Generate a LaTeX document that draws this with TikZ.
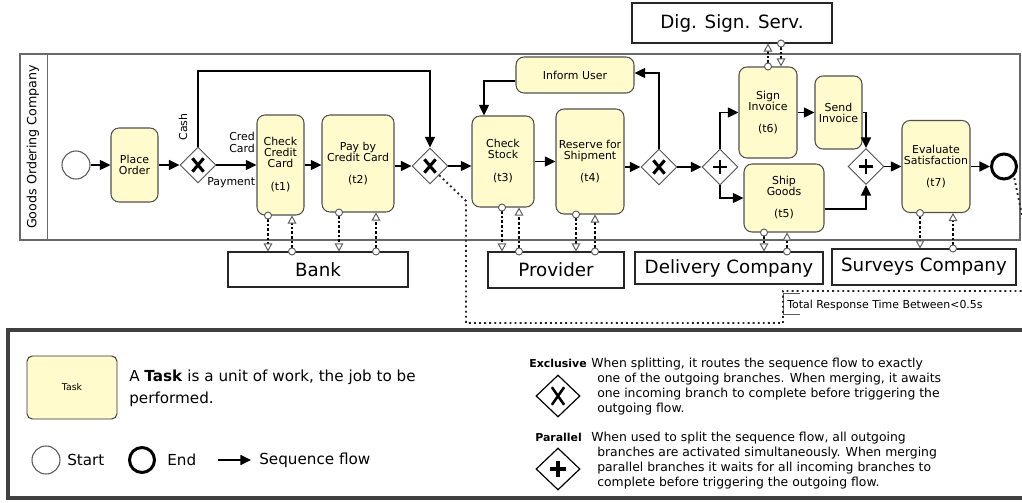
\documentclass[tikz,border=0pt]{standalone}
\usepackage{fontspec}
\setmainfont{DejaVu Sans}
\usetikzlibrary{shapes.geometric,arrows.meta}
\definecolor{taskfill}{RGB}{255,251,204}
\definecolor{taskline}{RGB}{80,80,80}
\definecolor{poolline}{RGB}{105,105,105}
\definecolor{frameline}{RGB}{64,64,64}
\definecolor{tipgray}{RGB}{90,90,90}
\newcommand\tfont{\fontsize{8.2}{8.25}\selectfont}
\newcommand\bigfont{\fontsize{13.7}{15}\selectfont}
\newcommand\lbfont{\fontsize{8.2}{8.5}\selectfont}
\newcommand\legA{\fontsize{11.4}{16.5}\selectfont}
\newcommand\legB{\fontsize{9.3}{11.25}\selectfont}
\newcommand\legBold{\fontsize{8.2}{10}\selectfont\bfseries}
\newcommand\gwX[1]{\draw[line width=2.3pt] ([shift={(-4.2pt,-5pt)}]#1.center) -- ([shift={(4.2pt,5pt)}]#1.center) ([shift={(-4.2pt,5pt)}]#1.center) -- ([shift={(4.2pt,-5pt)}]#1.center);}
\newcommand\gwP[1]{\draw[line width=2.2pt] ([xshift=-5.4pt]#1.center) -- ([xshift=5.4pt]#1.center) ([yshift=-5.4pt]#1.center) -- ([yshift=5.4pt]#1.center);}
\begin{document}
\begin{tikzpicture}[x=0.75pt,y=-0.75pt,
 task/.style={draw=taskline, fill=taskfill, rounded corners=6pt, line width=0.8pt, inner sep=0pt, align=center, font=\tfont},
 gw/.style={diamond, draw=taskline, fill=white, minimum width=27pt, minimum height=27pt, inner sep=0pt, line width=0.7pt},
 seq/.style={-{Triangle[length=8pt,width=7.5pt]}, line width=1.1pt, black},
 msg/.style={line width=0.9pt, dash pattern=on 2pt off 1.5pt, shorten <=-3pt, {Circle[length=6pt,width=6pt,fill=white,color=tipgray,line width=0.7pt]}-{Triangle[length=6pt,width=6.5pt,fill=white,color=tipgray,line width=0.7pt]}},
 part/.style={draw=black!85, line width=0.8pt, inner sep=0pt, font=\bigfont},
 lbl/.style={font=\lbfont, inner sep=0pt},
 assoc/.style={line width=1.4pt, dash pattern=on 1.4pt off 2.4pt, black!85},
 legline/.style={font=\legB, anchor=base west, inner sep=0pt},
]
\useasboundingbox (0,0) rectangle (1022,503);
\clip (0,0) rectangle (1022,503);
\fill[white] (0,0) rectangle (1022,503);

% pool
\node[draw=poolline, line width=1.1pt, minimum width=750pt, minimum height=139.5pt, inner sep=0pt] (pool) at (520,147) {};
\draw[poolline, line width=1.1pt] ([xshift=21pt]pool.north west) -- ([xshift=21pt]pool.south west);
\node[rotate=90, font=\fontsize{9.5}{10}\selectfont, inner sep=0pt] (lane) at (33,147) {Goods Ordering Company};

% events, tasks, gateways
\node[circle, draw=tipgray, fill=white, line width=0.8pt, minimum size=21pt, inner sep=0pt] (start) at (76,165) {};
\node[task, minimum width=35.25pt, minimum height=55.5pt] (place) at (134.5,165) {Place\\Order};
\node[gw] (G1) at (198,165) {};
\node[task, minimum width=35.25pt, minimum height=75pt] (t1) at (280.5,165) {Check\\Credit\\Card\\[9pt](t1)};
\node[task, minimum width=54pt, minimum height=72.75pt] (t2) at (358,163.5) {Pay by\\Credit Card\\[8.25pt](t2)};
\node[gw] (G2) at (430,166) {};
\node[task, minimum width=46.5pt, minimum height=68.25pt] (t3) at (503,161.5) {Check\\Stock\\[9pt](t3)};
\node[task, minimum width=51pt, minimum height=78.75pt] (t4) at (590,161.5) {Reserve for\\Shipment\\[8pt](t4)};
\node[task, minimum width=88.5pt, minimum height=27pt] (inform) at (575,75) {Inform User};
\node[gw] (G3) at (659,167) {};
\node[gw] (G4) at (720,167) {};
\node[task, minimum width=43.5pt, minimum height=68.25pt] (t6) at (768,112.5) {Sign\\Invoice\\[8.25pt](t6)};
\node[task, minimum width=35.25pt, minimum height=54.75pt] (send) at (838.5,112.5) {Send\\Invoice};
\node[task, minimum width=60pt, minimum height=51pt] (t5) at (784,198) {Ship\\Goods\\[8.25pt](t5)};
\node[gw] (G5) at (866,166.5) {};
\node[task, minimum width=51pt, minimum height=69pt] (t7) at (936,166.5) {Evaluate\\Satisfaction\\[8.25pt](t7)};
\node[circle, draw=black, fill=white, line width=2.25pt, minimum size=18.75pt, inner sep=0pt] (end) at (1004,166.5) {};

\gwX{G1} \gwX{G2} \gwX{G3} \gwP{G4} \gwP{G5}

% labels
\node[lbl, rotate=90] (cashlbl) at (183,127) {Cash};
\node[lbl, anchor=west, align=left] (credlbl) at (229,142.5) {Cred\\Card};
\node[lbl, anchor=west] (paylbl) at (207,183) {Payment};

% participants
\node[part, minimum width=135pt, minimum height=26.25pt] (bank) at (318,269.5) {Bank};
\node[part, minimum width=102pt, minimum height=27pt] (provider) at (556,270) {Provider};
\node[part, minimum width=141pt, minimum height=24pt] (delivery) at (729,268) {Delivery Company};
\node[part, minimum width=138pt, minimum height=27pt] (surveys) at (924,267) {Surveys Company};
\node[part, minimum width=150pt, minimum height=30pt] (dig) at (732,23) {Dig. Sign. Serv.};

% sequence flows
\coordinate (cashtop) at (198,71);
\draw[seq] (start) -- (place);
\draw[seq] (place) -- (G1);
\draw[seq] (G1.east) -- (t1.west);
\draw[seq] (G1.north) -- (cashtop) -| (G2.north);
\draw[seq] (t1.east) -- (t1.east -| t2.west);
\draw[seq] (t2.east |- G2.west) -- (G2.west);
\draw[seq] (G2.east) -- (G2.east -| t3.west);
\draw[seq] (t3.east) -- (t4.west);
\draw[seq] (t4.east |- G3.west) -- (G3.west);
\draw[seq] (G3.north) |- ([yshift=1.5pt]inform.east);
\draw[seq] ([yshift=-4.5pt]inform.west) -| ([xshift=-14.25pt]t3.north);
\draw[seq] (G3.east) -- (G4.west);
\draw[seq] (G4.north) |- (t6.west);
\draw[seq] (G4.south) |- (t5.west);
\draw[seq] (t6.east) -- (send.west);
\draw[seq] (send.east) -| (G5.north);
\draw[seq] ([yshift=-8.25pt]t5.east) -| (G5.south);
\draw[seq] (G5.east) -- (t7.west);
\draw[seq] (t7.east) -- (end.west);

% message flows
\coordinate (m1) at (268,0);  \coordinate (m2) at (292,0);
\coordinate (m3) at (339,0);  \coordinate (m4) at (376,0);
\coordinate (m5) at (502,0);  \coordinate (m6) at (519,0);
\coordinate (m7) at (576,0);  \coordinate (m8) at (595,0);
\coordinate (m9) at (768,0);  \coordinate (m10) at (781,0);
\coordinate (m11) at (764,0); \coordinate (m12) at (787,0);
\coordinate (m13) at (920,0); \coordinate (m14) at (953,0);
\draw[msg] (t1.south -| m1) -- (bank.north -| m1);
\draw[msg] (bank.north -| m2) -- (t1.south -| m2);
\draw[msg] (t2.south -| m3) -- (bank.north -| m3);
\draw[msg] (bank.north -| m4) -- (t2.south -| m4);
\draw[msg] (t3.south -| m5) -- (provider.north -| m5);
\draw[msg] (provider.north -| m6) -- (t3.south -| m6);
\draw[msg] (t4.south -| m7) -- (provider.north -| m7);
\draw[msg] (provider.north -| m8) -- (t4.south -| m8);
\draw[msg] (t6.north -| m9) -- (dig.south -| m9);
\draw[msg] (dig.south -| m10) -- (t6.north -| m10);
\draw[msg] (t5.south -| m11) -- (delivery.north -| m11);
\draw[msg] (delivery.north -| m12) -- (t5.south -| m12);
\draw[msg] (t7.south -| m13) -- (surveys.north -| m13);
\draw[msg] (surveys.north -| m14) -- (t7.south -| m14);

% annotation and association
\node[lbl, anchor=west] (annot) at (787,305) {Total Response Time Between<0.5s};
\draw[tipgray, line width=0.7pt] (800,293) -- (783,293) -- (783,314) -- (800,314);
\coordinate (a1) at (466,201); \coordinate (a2) at (466,323);
\coordinate (a3) at (783,323); \coordinate (a4) at (783,291);
\coordinate (a5) at (1038,291);
\draw[assoc] (G2.south east) -- (a1) -- (a2) -- (a3) -- (a4) -- (a5) -- (end.south east);

% legend
\draw[frameline, line width=3pt] (1040,330) -- (8,330) -- (8,498) -- (1040,498);
\node[draw=black!80, fill=taskfill, rounded corners=4pt, line width=0.7pt, minimum width=67.5pt, minimum height=47.25pt, inner sep=0pt, font=\fontsize{7}{8}\selectfont] (legtask) at (72,387.5) {Task};
\node[font=\legA, anchor=west, align=left, inner sep=0pt] (legtasktxt) at (129,388) {A \textbf{Task} is a unit of work, the job to be\\performed.};
\node[circle, draw=tipgray, line width=0.8pt, minimum size=21pt, inner sep=0pt] (legstart) at (46,460) {};
\node[font=\legA, anchor=west, inner sep=0pt] (legstarttxt) at (67,460) {Start};
\node[circle, draw=black, line width=2.25pt, minimum size=18.75pt, inner sep=0pt] (legend) at (142,460) {};
\node[font=\legA, anchor=west, inner sep=0pt] (legendtxt) at (167,460) {End};
\coordinate (lega1) at (218,460); \coordinate (lega2) at (251,460);
\draw[seq] (lega1) -- (lega2);
\node[font=\legA, anchor=west, inner sep=0pt] (legseqtxt) at (259,460) {Sequence flow};

\node[font=\legBold, anchor=base east, inner sep=0pt] (exlbl) at (587,367) {Exclusive};
\node[legline] (ex1) at (591,367) {When splitting, it routes the sequence flow to exactly};
\node[legline] (ex2) at (597,382) {one of the outgoing branches. When merging, it awaits};
\node[legline] (ex3) at (597,397) {one incoming branch to complete before triggering the};
\node[legline] (ex4) at (597,412) {outgoing flow.};
\node[diamond, draw=black, line width=0.9pt, minimum width=33pt, minimum height=31.5pt, inner sep=0pt] (legX) at (558,396) {};
\draw[line width=1.9pt] ([shift={(-4.6pt,-6.6pt)}]legX.center) -- ([shift={(4.6pt,6.6pt)}]legX.center) ([shift={(-4.6pt,6.6pt)}]legX.center) -- ([shift={(4.6pt,-6.6pt)}]legX.center);

\node[font=\legBold, anchor=base west, inner sep=0pt] (parlbl) at (535,441) {Parallel};
\node[legline] (pa1) at (591,441) {When used to split the sequence flow, all outgoing};
\node[legline] (pa2) at (597,456) {branches are activated simultaneously. When merging};
\node[legline] (pa3) at (597,471) {parallel branches it waits for all incoming branches to};
\node[legline] (pa4) at (597,486) {complete before triggering the outgoing flow.};
\node[diamond, draw=black, line width=0.9pt, minimum width=33pt, minimum height=31.5pt, inner sep=0pt] (legP) at (558,469) {};
\draw[line width=3pt] ([xshift=-6pt]legP.center) -- ([xshift=6pt]legP.center) ([yshift=-6pt]legP.center) -- ([yshift=6pt]legP.center);
\end{tikzpicture}
\end{document}
